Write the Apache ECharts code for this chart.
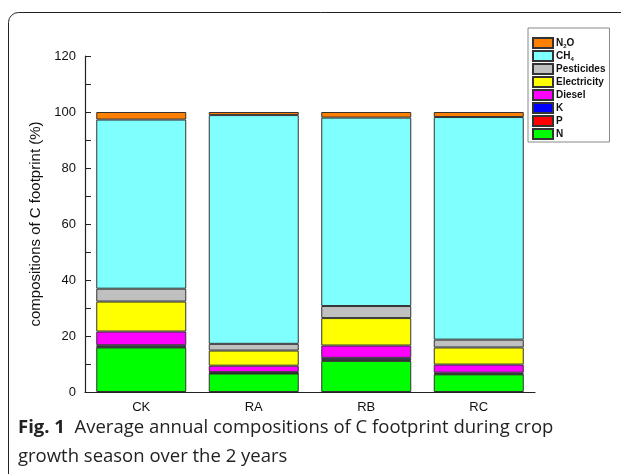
<!DOCTYPE html>
<html>
<head>
<meta charset="utf-8">
<script src="https://cdn.jsdelivr.net/npm/echarts@6/dist/echarts.min.js"></script>
<style>
	html, body { margin: 0; padding: 0; background: #fff; }
	#chart { width: 621px; height: 474px; }
</style>
</head>
<body>
<div id="chart"></div>
<script>
var categories = ['CK', 'RA', 'RB', 'RC'];
var yTicks = [0, 20, 40, 60, 80, 100, 120];
// stacked from the bottom up
var seriesNames = ['N', 'P', 'K', 'Diesel', 'Electricity', 'Pesticides', 'CH4', 'N2O'];
var nData = [15.9, 6.6, 11.1, 6.3];
var pData = [0.2, 0.1, 0.3, 0.2];
var kData = [0.6, 0.4, 0.8, 0.4];
var dieselData = [4.9, 2.3, 4.4, 2.9];
var electricityData = [10.7, 5.4, 9.8, 6.1];
var pesticidesData = [4.6, 2.4, 4.3, 2.8];
var ch4Data = [60.4, 81.7, 67.3, 79.5];
var n2oData = [2.7, 1.1, 2.0, 1.8];

var colors = {
	'N': '#00ff00', 'P': '#ff0000', 'K': '#0000ff', 'Diesel': '#ff00ff',
	'Electricity': '#ffff00', 'Pesticides': '#c0c0c0', 'CH4': '#80ffff', 'N2O': '#ff8000'
};
var values = [nData, pData, kData, dieselData, electricityData, pesticidesData, ch4Data, n2oData];

var series = seriesNames.map(function (name, i) {
	return {
		name: name,
		type: 'bar',
		stack: 'total',
		barWidth: '80%',
		itemStyle: { color: colors[name], borderColor: '#333', borderWidth: 1 },
		data: values[i]
	};
});

var option = {
	animation: false,
	backgroundColor: '#fff',
	textStyle: { fontFamily: 'Liberation Sans, Arial, sans-serif' },
	grid: { left: 85, top: 56, width: 450, height: 336 },
	legend: {
		orient: 'vertical',
		left: 528,
		top: 28,
		padding: [9, 4, 2, 4],
		icon: 'rect',
		itemWidth: 20,
		itemHeight: 10,
		itemGap: 1,
		borderColor: '#888',
		borderWidth: 1,
		data: seriesNames.slice().reverse(),
		formatter: function (name) {
			if (name === 'N2O') return 'N{s|2}O';
			if (name === 'CH4') return 'CH{s|4}';
			return name;
		},
		textStyle: {
			fontSize: 10,
			fontWeight: 'bold',
			color: '#111',
			lineHeight: 12,
			padding: [0, 0, 0, -2],
			rich: { s: { fontSize: 6, fontWeight: 'bold', lineHeight: 12, verticalAlign: 'bottom', padding: [4, 0, 0, 0] } }
		}
	},
	xAxis: {
		type: 'category',
		data: categories,
		axisLine: { lineStyle: { color: '#222', width: 1.2 } },
		axisTick: { show: false },
		axisLabel: { color: '#111', fontSize: 13, margin: 9 }
	},
	yAxis: {
		type: 'value',
		min: yTicks[0],
		max: yTicks[yTicks.length - 1],
		interval: 20,
		name: 'compositions of C footprint (%)',
		nameLocation: 'middle',
		nameGap: 32,
		nameTextStyle: { fontSize: 15, color: '#111' },
		axisLine: { show: true, lineStyle: { color: '#222', width: 1.2 } },
		axisTick: { show: true, inside: true, length: 6, lineStyle: { color: '#222' } },
		minorTick: { show: true, splitNumber: 2, length: 6, lineStyle: { color: '#222' } },
		splitLine: { show: false },
		axisLabel: { color: '#111', fontSize: 13, margin: 9 }
	},
	graphic: [{
		type: 'rect',
		shape: { x: 8.5, y: 12.5, width: 640, height: 480, r: 10 },
		style: { fill: 'none', stroke: '#222', lineWidth: 1 },
		silent: true
	}, {
		type: 'text',
		x: 18,
		y: 413,
		style: {
			text: '{b|Fig. 1}  Average annual compositions of C footprint during crop\ngrowth season over the 2 years',
			font: '18.5px "Open Sans", "Noto Sans", sans-serif',
			fill: '#222',
			lineHeight: 29,
			rich: {
				b: { font: 'bold 18.5px "Open Sans", "Noto Sans", sans-serif', fill: '#222', lineHeight: 29 }
			}
		}
	}],
	series: series
};

echarts.init(document.getElementById('chart')).setOption(option);
</script>
</body>
</html>
